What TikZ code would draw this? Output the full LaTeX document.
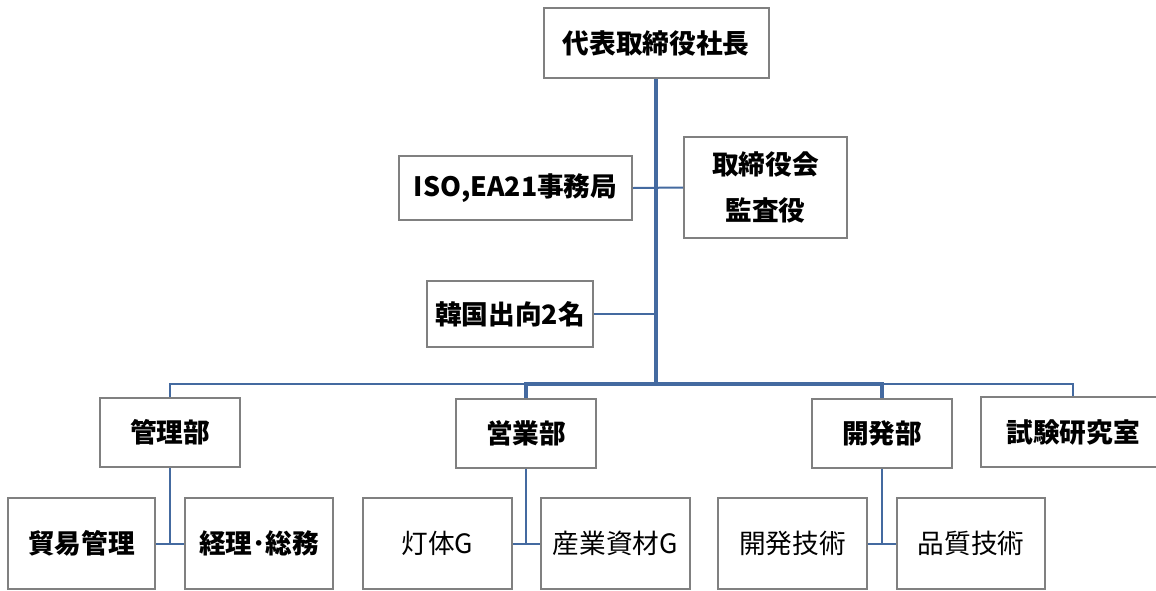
\documentclass[tikz,border=0pt]{standalone}
\usepackage{fontspec}
\setmainfont{Noto Sans CJK JP}
\usepackage{tikz}
\definecolor{linkblue}{RGB}{68,106,160}
\definecolor{boxgray}{RGB}{128,128,128}
\tikzstyle{box}=[draw=boxgray, line width=1.5pt, fill=white, inner sep=0pt, font=\fontsize{20}{24}\selectfont\bfseries]
\tikzstyle{plainbox}=[box, font=\fontsize{20}{24}\selectfont]
\tikzstyle{link}=[draw=linkblue, line width=1.5pt]
\tikzstyle{mainlink}=[draw=linkblue, line width=2.4pt]

\begin{document}
\begin{tikzpicture}[x=0.75pt, y=-0.75pt]
		   \useasboundingbox (0,0) rectangle (1156,590);
		   \begin{scope}
			   \node (ceo) at (656, 43)[box, minimum width=168.75pt, minimum height=52.5pt] {代表取締役社長};
			   \node (iso) at (515.5, 188)[box, minimum width=174.75pt, minimum height=48pt] {ISO,EA21事務局};
			   \node (board) at (765.5, 187.5)[box, minimum width=122.25pt, minimum height=75.75pt, align=center, font=\fontsize{20}{34}\selectfont\bfseries] {取締役会\\監査役};
			   \node (korea) at (510, 314)[box, minimum width=124.5pt, minimum height=49.5pt] {韓国出向2名};
			   \node (kanri) at (170, 432.5)[box, minimum width=105pt, minimum height=51.75pt] {管理部};
			   \node (eigyo) at (526, 433)[box, minimum width=105pt, minimum height=51.75pt] {営業部};
			   \node (kaihatsu) at (882, 433)[box, minimum width=105pt, minimum height=51.75pt] {開発部};
			   \node (shiken) at (1073, 432)[box, minimum width=138pt, minimum height=52.5pt] {試験研究室};
			   \node (boeki) at (81.5, 543.5)[box, minimum width=110.25pt, minimum height=68.25pt] {貿易管理};
			   \node (keiri) at (259, 543.5)[box, minimum width=111pt, minimum height=68.25pt] {経理･総務};
			   \node (touta) at (437.5, 543.5)[plainbox, minimum width=111.75pt, minimum height=68.25pt] {灯体G};
			   \node (sangyo) at (615.5, 543.5)[plainbox, minimum width=111.75pt, minimum height=68.25pt] {産業資材G};
			   \node (gijutsu) at (792.5, 543.5)[plainbox, minimum width=111.75pt, minimum height=68.25pt] {開発技術};
			   \node (hinshitsu) at (971, 543.5)[plainbox, minimum width=111pt, minimum height=68.25pt] {品質技術};
			   \coordinate (hub) at (656, 384);
		   \end{scope}
		   \begin{scope}
			   \draw[mainlink] (ceo.south) -- (hub);

			   \draw[link] (iso.east) -- (board.west);
			   \draw[link] (korea.east) -- (korea.east -| hub);

			   \draw[link] (kanri.north) |- (hub);
			   \draw[link] (shiken.north) |- (hub);
			   \draw[mainlink] (eigyo.north) |- (hub);
			   \draw[mainlink] (kaihatsu.north) |- (hub);

			   \draw[link] (kanri.south) |- (boeki.east);
			   \draw[link] (kanri.south) |- (keiri.west);
			   \draw[link] (eigyo.south) |- (touta.east);
			   \draw[link] (eigyo.south) |- (sangyo.west);
			   \draw[link] (kaihatsu.south) |- (gijutsu.east);
			   \draw[link] (kaihatsu.south) |- (hinshitsu.west);
		   \end{scope}
	   \end{tikzpicture}
\end{document}
